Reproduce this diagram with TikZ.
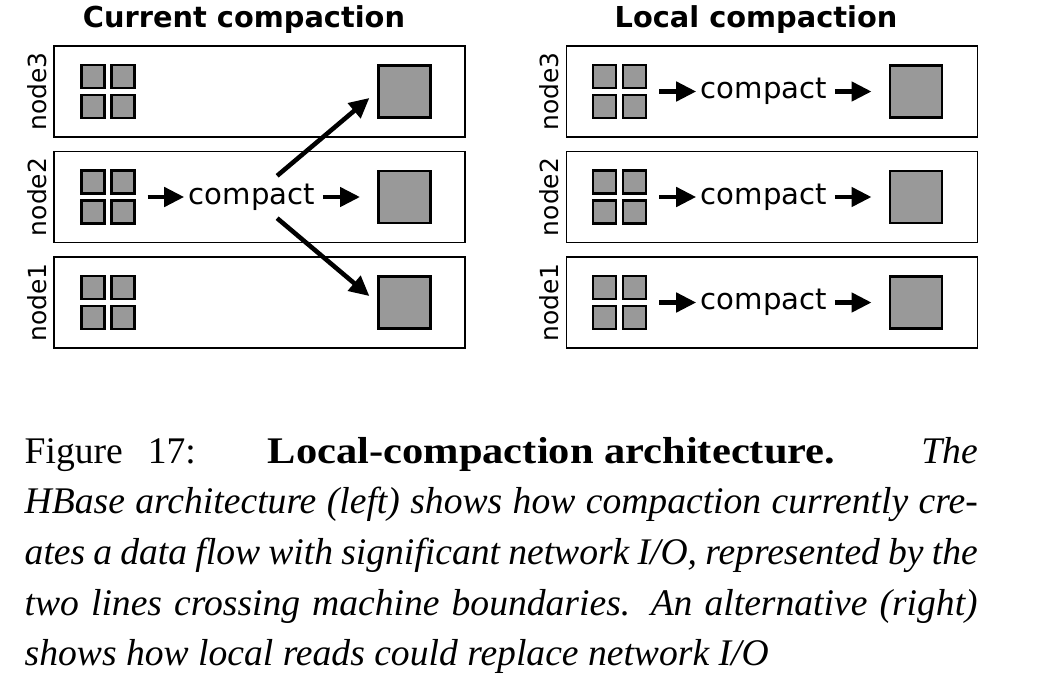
\documentclass[tikz,border=0pt]{standalone}
\usepackage{fontspec}
\setmainfont{Liberation Serif}
\newfontfamily\dejavu{DejaVu Sans}
\usepackage{graphicx}
\usepackage{tikz}
\usetikzlibrary{positioning, arrows.meta}
\tikzstyle{machine} = [rectangle, minimum width=4.11cm, minimum height=0.91cm, draw=black, line width=0.55pt]
\tikzstyle{files} = [rectangle, minimum size=0.58cm, inner sep=0pt, path picture={
  \foreach \dx/\dy in {-1/-1,-1/1,1/-1,1/1}
    \draw [line width=0.75pt, fill=black!40] ([shift={(\dx*0.15-0.1165,\dy*0.15-0.1165)}]path picture bounding box.center) rectangle ++(0.233,0.233);
}]
\tikzstyle{merged} = [rectangle, minimum size=0.523cm, inner sep=0pt, draw=black, fill=black!40, line width=0.75pt]
\tikzstyle{op} = [inner sep=0.04cm, font=\dejavu\fontsize{8.3}{10}\selectfont]
\tikzstyle{rowname} = [inner sep=0pt, font=\dejavu\fontsize{7.1}{8}\selectfont]
\tikzstyle{heading} = [inner sep=0pt, font=\dejavu\bfseries\fontsize{8.2}{10}\selectfont]
\tikzstyle{arrow} = [line width=1.3pt, -{Triangle[length=0.2cm, width=0.19cm]}]
\tikzstyle{capline} = [anchor=base west, inner sep=0pt, font=\fontsize{10.7}{13}\selectfont]

\begin{document}
\begin{tikzpicture}[node distance=1.055cm]
\useasboundingbox (0,0) rectangle (10.53,-6.95);

% current compaction
\node (boxL3) [machine] at (2.595,-0.915) {};
\node (boxL2) [machine, below of=boxL3] {};
\node (boxL1) [machine, below of=boxL2] {};
\node (titleL) [heading, above of=boxL3, node distance=0.72cm, xshift=-0.155cm] {Current compaction};
\node (labL3) [rowname, left of=boxL3, node distance=2.22cm] {\rotatebox{90}{node3}};
\node (labL2) [rowname, left of=boxL2, node distance=2.22cm] {\rotatebox{90}{node2}};
\node (labL1) [rowname, left of=boxL1, node distance=2.22cm] {\rotatebox{90}{node1}};

\node (grpL3) [files, left of=boxL3, node distance=1.515cm] {};
\node (grpL2) [files, left of=boxL2, node distance=1.515cm] {};
\node (grpL1) [files, left of=boxL1, node distance=1.515cm] {};
\node (bigL3) [merged, right of=grpL3, node distance=2.965cm] {};
\node (bigL2) [merged, right of=grpL2, node distance=2.965cm] {};
\node (bigL1) [merged, right of=grpL1, node distance=2.965cm] {};

\node (cmpL2) [op, right of=grpL2, node distance=1.44cm] {compact};
\draw [arrow, shorten <=0.1cm] (grpL2) -- (cmpL2);
\draw [arrow, shorten <=0.03cm, shorten >=0.17cm] (cmpL2) -- (bigL2);
\draw [arrow, shorten <=0.05cm, shorten >=0.1cm] (cmpL2) -- (bigL3.west);
\draw [arrow, shorten <=0.05cm, shorten >=0.1cm] (cmpL2) -- (bigL1.west);

% local compaction
\node (boxR3) [machine, right of=boxL3, node distance=5.125cm] {};
\node (boxR2) [machine, below of=boxR3] {};
\node (boxR1) [machine, below of=boxR2] {};
\node (titleR) [heading, above of=boxR3, node distance=0.72cm, xshift=-0.16cm] {Local compaction};
\node (labR3) [rowname, left of=boxR3, node distance=2.225cm] {\rotatebox{90}{node3}};
\node (labR2) [rowname, left of=boxR2, node distance=2.225cm] {\rotatebox{90}{node2}};
\node (labR1) [rowname, left of=boxR1, node distance=2.225cm] {\rotatebox{90}{node1}};

\node (grpR3) [files, left of=boxR3, node distance=1.525cm] {};
\node (grpR2) [files, left of=boxR2, node distance=1.525cm] {};
\node (grpR1) [files, left of=boxR1, node distance=1.525cm] {};
\node (bigR3) [merged, right of=grpR3, node distance=2.965cm] {};
\node (bigR2) [merged, right of=grpR2, node distance=2.965cm] {};
\node (bigR1) [merged, right of=grpR1, node distance=2.965cm] {};

\node (cmpR3) [op, right of=grpR3, node distance=1.445cm] {compact};
\node (cmpR2) [op, right of=grpR2, node distance=1.445cm] {compact};
\node (cmpR1) [op, right of=grpR1, node distance=1.445cm] {compact};
\draw [arrow, shorten <=0.1cm] (grpR3) -- (cmpR3);
\draw [arrow, shorten <=0.03cm, shorten >=0.17cm] (cmpR3) -- (bigR3);
\draw [arrow, shorten <=0.1cm] (grpR2) -- (cmpR2);
\draw [arrow, shorten <=0.03cm, shorten >=0.17cm] (cmpR2) -- (bigR2);
\draw [arrow, shorten <=0.1cm] (grpR1) -- (cmpR1);
\draw [arrow, shorten <=0.03cm, shorten >=0.17cm] (cmpR1) -- (bigR1);

% caption
\node (cap1) [capline] at (0.24,-4.63) {\makebox[9.53cm][l]{Figure\hspace{0.25cm}17:\hspace{0.72cm}\scalebox{1.13}[1]{\textbf{Local-compaction architecture.}}\hfill\textit{The}}};
\node (cap2) [capline] at (0.24,-5.13) {\makebox[9.53cm][s]{\itshape HBase architecture (left) shows how compaction currently cre-}};
\node (cap3) [capline] at (0.24,-5.64) {\makebox[9.53cm][s]{\itshape ates a data flow with significant network I/O, represented by the}};
\node (cap4) [capline] at (0.24,-6.15) {\makebox[9.53cm][s]{\itshape two lines crossing machine boundaries.  An alternative (right)}};
\node (cap5) [capline] at (0.24,-6.65) {\itshape shows how local reads could replace network I/O};

\end{tikzpicture}
\end{document}
